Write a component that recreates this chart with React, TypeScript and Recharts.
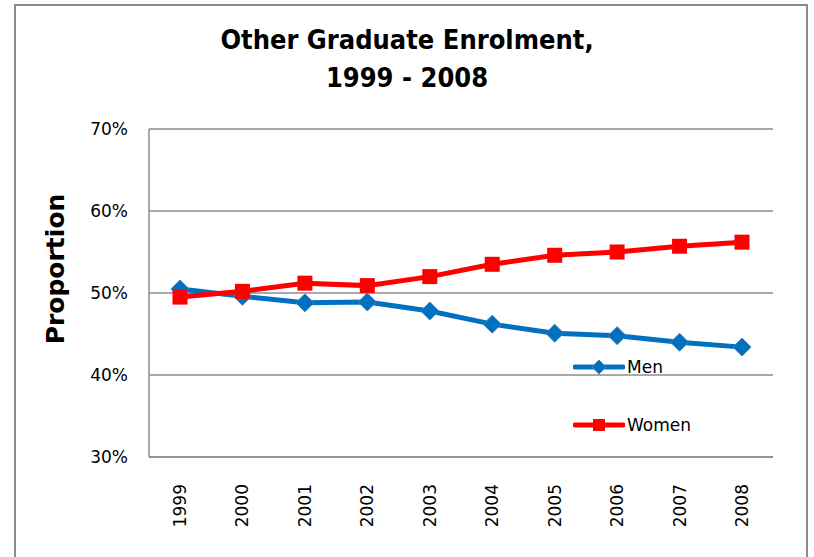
import { CartesianGrid, Line, LineChart, XAxis, YAxis } from "recharts";

const years = ["1999", "2000", "2001", "2002", "2003", "2004", "2005", "2006", "2007", "2008"];
const men = [50.5, 49.6, 48.8, 48.9, 47.8, 46.2, 45.1, 44.8, 44.0, 43.4];
const women = [49.5, 50.2, 51.2, 50.9, 52.0, 53.5, 54.6, 55.0, 55.7, 56.2];
const yTicks = [30, 40, 50, 60, 70];

const data = years.map((year, i) => ({ year, men: men[i], women: women[i] }));

const BLUE = "#0070C0";
const RED = "#FF0000";
const FONT = "'DejaVu Sans', sans-serif";

function Diamond(props: any) {
  const { cx, cy } = props;
  if (cx == null || cy == null) return null;
  const r = 9;
  return (
    <path
      d={`M${cx},${cy - r} L${cx + r},${cy} L${cx},${cy + r} L${cx - r},${cy} Z`}
      fill={BLUE}
      stroke="#4A7EBB"
      strokeWidth={1}
    />
  );
}

function Square(props: any) {
  const { cx, cy } = props;
  if (cx == null || cy == null) return null;
  const r = 7.5;
  return <rect x={cx - r} y={cy - r} width={r * 2} height={r * 2} fill={RED} />;
}

function YearTick(props: any) {
  const { x, y, payload } = props;
  return (
    <text
      x={x}
      y={y + 19}
      transform={`rotate(-90, ${x}, ${y + 19})`}
      textAnchor="end"
      dy={6}
      fontSize={17}
      fontFamily={FONT}
      fill="#000"
    >
      {payload.value}
    </text>
  );
}

function LegendBox() {
  const rows = [
    { label: "Men", color: BLUE, marker: "diamond" },
    { label: "Women", color: RED, marker: "square" },
  ];
  return (
    <div style={{ position: "absolute", left: 573, top: 338, fontFamily: FONT, fontSize: 17 }}>
      {rows.map((row) => (
        <div key={row.label} style={{ display: "flex", alignItems: "center", height: 58 }}>
          <svg width={52} height={20}>
            <line x1={2} y1={10} x2={50} y2={10} stroke={row.color} strokeWidth={5} strokeLinecap="round" />
            {row.marker === "diamond" ? (
              <path d="M26,3 L33,10 L26,17 L19,10 Z" fill={row.color} stroke="#4A7EBB" />
            ) : (
              <rect x={20} y={4} width={12} height={12} fill={row.color} />
            )}
          </svg>
          <span style={{ marginLeft: 2, color: "#000" }}>{row.label}</span>
        </div>
      ))}
    </div>
  );
}

export default function App() {
  return (
    <div style={{ position: "absolute", left: 0, top: 0, width: 814, height: 557, overflow: "hidden", background: "#fff" }}>
      <div
        style={{
          position: "absolute",
          left: 14,
          top: 4,
          width: 790,
          height: 600,
          border: "2px solid #8a8a8a",
        }}
      />
      <div
        style={{
          position: "absolute",
          left: 0,
          top: 21,
          width: 814,
          textAlign: "center",
          fontFamily: "'DejaVu Sans Condensed', 'DejaVu Sans', sans-serif",
          fontWeight: "bold",
          fontSize: 27,
          lineHeight: "38px",
          color: "#000",
        }}
      >
        Other Graduate Enrolment,
        <br />
        1999 - 2008
      </div>
      <div
        style={{
          position: "absolute",
          left: 55,
          top: 269,
          transform: "translate(-50%, -50%) rotate(-90deg)",
          fontFamily: FONT,
          fontWeight: "bold",
          fontSize: 25,
          color: "#000",
          whiteSpace: "nowrap",
        }}
      >
        Proportion
      </div>
      <div style={{ position: "absolute", left: 0, top: 0 }}>
        <LineChart width={814} height={557} data={data} margin={{ top: 129, right: 41, bottom: 30, left: 89 }}>
          <CartesianGrid vertical={false} stroke="#8c8c8c" strokeWidth={1.5} />
          <XAxis
            dataKey="year"
            padding={{ left: 31, right: 31 }}
            height={70}
            tickLine={false}
            axisLine={{ stroke: "#8c8c8c", strokeWidth: 1.5 }}
            tick={<YearTick />}
            interval={0}
          />
          <YAxis
            domain={[30, 70]}
            ticks={yTicks}
            width={60}
            tickLine={false}
            tickSize={0}
            tickMargin={21}
            tickFormatter={(v: number) => `${v}%`}
            axisLine={{ stroke: "#8c8c8c", strokeWidth: 1.5 }}
            tick={{ fontSize: 17, fontFamily: FONT, fill: "#000" }}
          />
          <Line
            dataKey="men"
            name="Men"
            stroke={BLUE}
            strokeWidth={5}
            dot={<Diamond />}
            activeDot={false}
            isAnimationActive={false}
          />
          <Line
            dataKey="women"
            name="Women"
            stroke={RED}
            strokeWidth={5}
            dot={<Square />}
            activeDot={false}
            isAnimationActive={false}
          />
        </LineChart>
      </div>
      <LegendBox />
    </div>
  );
}
